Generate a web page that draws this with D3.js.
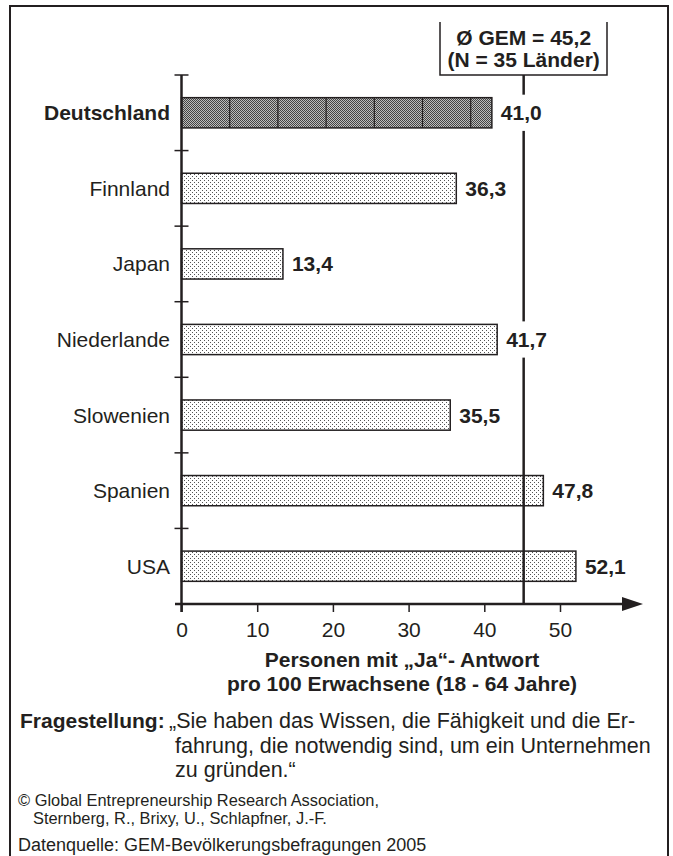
<!DOCTYPE html>
<html lang="de">
<head>
    <meta charset="UTF-8">
    <title>GEM 2005 - Gründungsfähigkeiten</title>
    <script src="https://d3js.org/d3.v7.min.js"></script>
    <style>
        body { margin: 0; background: #fff; }
        svg { display: block; font-family: "Liberation Sans", Arial, sans-serif; }
        text { fill: #231f20; }
    </style>
</head>
<body>
    <svg id="chart" width="673" height="856"></svg>

    <script>
        // data
        const countries = ["Deutschland", "Finnland", "Japan", "Niederlande", "Slowenien", "Spanien", "USA"];
        const values = [41.0, 36.3, 13.4, 41.7, 35.5, 47.8, 52.1];
        const highlight = ["Deutschland"];
        const xTicks = [0, 10, 20, 30, 40, 50];
        const meanValue = 45.2;
        const meanLabel = ["Ø GEM = 45,2", "(N = 35 Länder)"];
        const xTitle = ["Personen mit „Ja“- Antwort", "pro 100 Erwachsene (18 - 64 Jahre)"];

        const ink = "#231f20";
        const fmt = v => v.toFixed(1).replace(".", ",");
        const data = countries.map((c, i) => ({ name: c, value: values[i] }));

        const svg = d3.select("#chart");
        const x0 = 181.5, axisY = 604, plotTop = 75;

        const x = d3.scaleLinear().domain([0, 60]).range([x0, x0 + 60 * 7.57]);
        const y = d3.scaleBand()
            .domain(countries)
            .range([plotTop, axisY])
            .paddingInner(0.6)
            .paddingOuter(0.3);

        // patterns
        const defs = svg.append("defs");
        const light = defs.append("pattern").attr("id", "dots-light")
            .attr("patternUnits", "userSpaceOnUse").attr("width", 4).attr("height", 4);
        light.append("rect").attr("width", 4).attr("height", 4).attr("fill", "#fff");
        light.append("rect").attr("x", 0).attr("y", 0).attr("width", 1).attr("height", 1).attr("fill", "#555");
        light.append("rect").attr("x", 2).attr("y", 2).attr("width", 1).attr("height", 1).attr("fill", "#555");

        const dark = defs.append("pattern").attr("id", "dots-dark")
            .attr("patternUnits", "userSpaceOnUse").attr("width", 2).attr("height", 2);
        dark.append("rect").attr("width", 2).attr("height", 2).attr("fill", "#bdbdbd");
        dark.append("rect").attr("x", 0).attr("y", 0).attr("width", 1).attr("height", 1).attr("fill", "#444");
        dark.append("rect").attr("x", 1).attr("y", 1).attr("width", 1).attr("height", 1).attr("fill", "#444");

        // outer frame
        svg.append("rect")
            .attr("x", 10).attr("y", 6)
            .attr("width", 658).attr("height", 860)
            .attr("fill", "none").attr("stroke", ink).attr("stroke-width", 2);

        // bars
        const bars = svg.append("g");
        bars.selectAll("rect")
            .data(data)
            .join("rect")
            .attr("x", x(0))
            .attr("y", d => y(d.name))
            .attr("width", d => x(d.value) - x(0))
            .attr("height", y.bandwidth())
            .attr("fill", d => highlight.includes(d.name) ? "url(#dots-dark)" : "url(#dots-light)")
            .attr("stroke", ink)
            .attr("stroke-width", 1.5);

        // segment lines inside the highlighted bar
        data.filter(d => highlight.includes(d.name)).forEach(d => {
            const seg = 48.2;
            const xs = d3.range(x(0) + seg, x(d.value), seg);
            bars.selectAll(null)
                .data(xs)
                .join("line")
                .attr("x1", v => v).attr("x2", v => v)
                .attr("y1", y(d.name)).attr("y2", y(d.name) + y.bandwidth())
                .attr("stroke", ink).attr("stroke-width", 1.2);
        });

        // mean line and its box
        const mx = x(meanValue);
        svg.append("line")
            .attr("x1", mx).attr("x2", mx)
            .attr("y1", plotTop).attr("y2", axisY)
            .attr("stroke", ink).attr("stroke-width", 2.5);
        svg.append("path")
            .attr("d", `M440,22 V${plotTop} H607 V22`)
            .attr("fill", "none").attr("stroke", ink).attr("stroke-width", 1.5);
        svg.append("text")
            .attr("x", mx).attr("text-anchor", "middle")
            .attr("font-size", 21).attr("font-weight", "bold")
            .selectAll("tspan")
            .data(meanLabel)
            .join("tspan")
            .attr("x", mx)
            .attr("y", (d, i) => 45 + i * 22)
            .text(d => d);

        // value labels (white box so the mean line breaks behind them)
        const labels = svg.append("g");
        data.forEach(d => {
            const t = labels.append("text")
                .attr("x", x(d.value) + 9)
                .attr("y", y(d.name) + y.bandwidth() / 2 + 7.5)
                .attr("font-size", 21).attr("font-weight", "bold")
                .text(fmt(d.value));
            const b = t.node().getBBox();
            if (b.x < mx && b.x + b.width > mx - 3) {
                labels.insert("rect", "text")
                    .attr("x", b.x - 4).attr("y", y(d.name) - 3)
                    .attr("width", b.width + 8).attr("height", y.bandwidth() + 6)
                    .attr("fill", "#fff");
            }
        });

        // category labels
        svg.append("g").selectAll("text")
            .data(data)
            .join("text")
            .attr("x", 170)
            .attr("y", d => y(d.name) + y.bandwidth() / 2 + 7.5)
            .attr("text-anchor", "end")
            .attr("font-size", 21)
            .attr("font-weight", d => highlight.includes(d.name) ? "bold" : "normal")
            .text(d => d.name);

        // y axis with crossing ticks at band boundaries
        svg.append("line")
            .attr("x1", x0).attr("x2", x0)
            .attr("y1", plotTop).attr("y2", axisY + 8)
            .attr("stroke", ink).attr("stroke-width", 2.5);
        svg.append("g").selectAll("line")
            .data(d3.range(countries.length))
            .join("line")
            .attr("x1", x0 - 7).attr("x2", x0 + 7)
            .attr("y1", i => plotTop + i * y.step())
            .attr("y2", i => plotTop + i * y.step())
            .attr("stroke", ink).attr("stroke-width", 1.5);

        // x axis
        const xAxis = svg.append("g")
            .attr("transform", `translate(0,${axisY})`)
            .call(d3.axisBottom(x).tickValues(xTicks).tickSize(8).tickPadding(10).tickFormat(d3.format("d")));
        xAxis.select(".domain").remove();
        xAxis.selectAll(".tick line").attr("stroke", ink).attr("stroke-width", 1.5);
        xAxis.selectAll(".tick text")
            .attr("font-size", 21)
            .attr("font-family", "Liberation Sans, Arial, sans-serif")
            .attr("fill", ink);
        svg.append("line")
            .attr("x1", 175).attr("x2", 630)
            .attr("y1", axisY).attr("y2", axisY)
            .attr("stroke", ink).attr("stroke-width", 2.5);
        svg.append("path")
            .attr("d", `M622,${axisY - 7} L643,${axisY} L622,${axisY + 7} Z`)
            .attr("fill", ink);

        // axis title
        svg.append("text")
            .attr("text-anchor", "middle")
            .attr("font-size", 21).attr("font-weight", "bold")
            .selectAll("tspan")
            .data(xTitle)
            .join("tspan")
            .attr("x", 402)
            .attr("y", (d, i) => 667 + i * 24)
            .text(d => d);

        // question and source notes
        const notes = svg.append("g").attr("font-size", 21.5);
        const q = notes.append("text").attr("x", 20).attr("y", 728);
        q.append("tspan").attr("font-weight", "bold").attr("font-size", 21).text("Fragestellung:");
        q.append("tspan").attr("x", 169).text("„Sie haben das Wissen, die Fähigkeit und die Er-");
        notes.append("text").attr("x", 175).attr("y", 753)
            .text("fahrung, die notwendig sind, um ein Unternehmen");
        notes.append("text").attr("x", 175).attr("y", 777).text("zu gründen.“");

        svg.append("text").attr("x", 18).attr("y", 806).attr("font-size", 16.4)
            .text("© Global Entrepreneurship Research Association,");
        svg.append("text").attr("x", 33).attr("y", 824).attr("font-size", 16.4)
            .text("Sternberg, R., Brixy, U., Schlapfner, J.-F.");
        svg.append("text").attr("x", 18).attr("y", 851).attr("font-size", 18)
            .text("Datenquelle: GEM-Bevölkerungsbefragungen 2005");
    </script>
</body>
</html>
